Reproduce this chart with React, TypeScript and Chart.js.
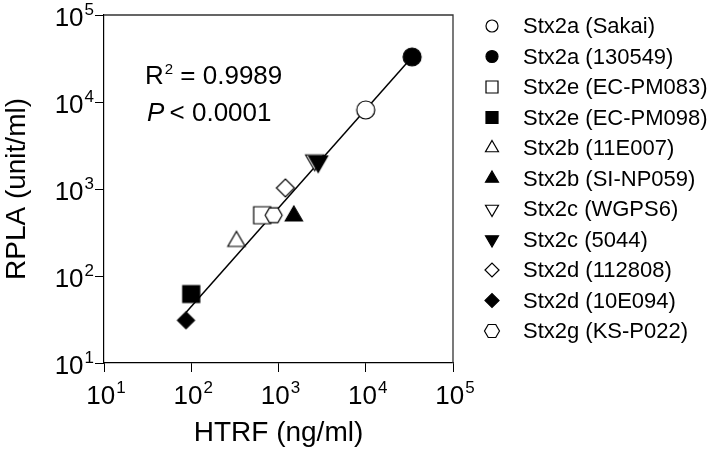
import { useEffect, useRef } from 'react';
import { Chart, registerables } from 'chart.js';

Chart.register(...registerables);

// ---- data ----
const strains = [
  'Stx2a (Sakai)',
  'Stx2a (130549)',
  'Stx2e (EC-PM083)',
  'Stx2e (EC-PM098)',
  'Stx2b (11E007)',
  'Stx2b (SI-NP059)',
  'Stx2c (WGPS6)',
  'Stx2c (5044)',
  'Stx2d (112808)',
  'Stx2d (10E094)',
  'Stx2g (KS-P022)',
];
const htrf = [10000, 34000, 650, 100, 330, 1500, 2600, 2850, 1200, 87, 880];
const rpla = [8100, 33000, 500, 62, 250, 490, 2150, 2080, 1030, 31, 500];
const fitX = [87, 34000];
const fitY = [38, 33000];
const decadeTicks = [10, 100, 1000, 10000, 100000];
const decadeExponents = ['1', '2', '3', '4', '5'];
const rSquaredText = '0.9989';
const pValueText = '0.0001';

// ---- styles ----
const markerShapes = ['circle', 'circle', 'square', 'square', 'triangle', 'triangle', 'triangleDown', 'triangleDown', 'diamond', 'diamond', 'hexagon'];
const markerFilled = [false, true, false, true, false, true, false, true, false, true, false];
const markerSizes = [9, 9, 8.5, 8.5, 10, 10, 10.5, 11, 9, 8.5, 8.5];
const legendSizes = [6, 6, 6, 6, 7.5, 7.5, 7.5, 7.5, 7, 7, 7.5];

const FONT = '"Liberation Sans", Arial, Helvetica, sans-serif';

function shapePath(ctx: CanvasRenderingContext2D, shape: string, x: number, y: number, s: number) {
  ctx.beginPath();
  const poly = (angles: number[], r: number) => {
    angles.forEach((a, i) => {
      const rad = (a * Math.PI) / 180;
      const px = x + Math.cos(rad) * r;
      const py = y + Math.sin(rad) * r;
      if (i === 0) ctx.moveTo(px, py);
      else ctx.lineTo(px, py);
    });
    ctx.closePath();
  };
  switch (shape) {
    case 'circle':
      ctx.arc(x, y, s, 0, Math.PI * 2);
      break;
    case 'square':
      ctx.rect(x - s, y - s, 2 * s, 2 * s);
      break;
    case 'triangle':
      poly([-90, 30, 150], s);
      break;
    case 'triangleDown':
      poly([90, 210, 330], s);
      break;
    case 'diamond':
      poly([0, 90, 180, 270], s);
      break;
    case 'hexagon':
      poly([0, 60, 120, 180, 240, 300], s);
      break;
  }
}

function drawMarker(ctx: CanvasRenderingContext2D, shape: string, filled: boolean, x: number, y: number, s: number) {
  shapePath(ctx, shape, x, y, s);
  ctx.fillStyle = filled ? '#000' : '#fff';
  ctx.fill();
  ctx.lineWidth = 1.2;
  ctx.strokeStyle = '#000';
  ctx.stroke();
}

function makeMarkerImage(shape: string, filled: boolean, s: number) {
  const c = document.createElement('canvas');
  const size = Math.ceil(2 * s + 4);
  c.width = size;
  c.height = size;
  const ctx = c.getContext('2d')!;
  drawMarker(ctx, shape, filled, size / 2, size / 2, s);
  return c;
}

function drawPower(ctx: CanvasRenderingContext2D, exp: string, x: number, baseY: number, align: 'center' | 'right') {
  ctx.font = `26px ${FONT}`;
  const w10 = ctx.measureText('10').width;
  ctx.font = `17px ${FONT}`;
  const wExp = ctx.measureText(exp).width;
  const total = w10 + 1 + wExp;
  const start = align === 'center' ? x - total / 2 : x - total;
  ctx.textAlign = 'left';
  ctx.textBaseline = 'alphabetic';
  ctx.fillStyle = '#000';
  ctx.font = `26px ${FONT}`;
  ctx.fillText('10', start, baseY);
  ctx.font = `17px ${FONT}`;
  ctx.fillText(exp, start + w10 + 1, baseY - 11);
}

const decorPlugin = {
  id: 'decor',
  afterDraw(chart: any) {
    const ctx: CanvasRenderingContext2D = chart.ctx;
    const { chartArea } = chart;
    const xs = chart.scales.x;
    const ys = chart.scales.y;
    ctx.save();
    // top and right frame
    ctx.strokeStyle = '#333';
    ctx.lineWidth = 1.3;
    ctx.beginPath();
    ctx.moveTo(chartArea.left, chartArea.top);
    ctx.lineTo(chartArea.right, chartArea.top);
    ctx.lineTo(chartArea.right, chartArea.bottom);
    ctx.stroke();

    // tick labels
    decadeTicks.forEach((v, i) => {
      const px = xs.getPixelForValue(v);
      drawPower(ctx, decadeExponents[i], px + 2, chartArea.bottom + 41, 'center');
      const py = ys.getPixelForValue(v);
      drawPower(ctx, decadeExponents[i], chartArea.left - 10, py + 11, 'right');
    });

    // annotation
    ctx.fillStyle = '#000';
    ctx.textAlign = 'left';
    ctx.textBaseline = 'alphabetic';
    const ax = xs.getPixelForValue(10) + 41;
    const ay = ys.getPixelForValue(100000) + 69;
    ctx.font = `26px ${FONT}`;
    ctx.fillText('R', ax, ay);
    let cx = ax + ctx.measureText('R').width + 1;
    ctx.font = `15px ${FONT}`;
    ctx.fillText('2', cx, ay - 10);
    cx += ctx.measureText('2').width;
    ctx.font = `26px ${FONT}`;
    ctx.fillText(' = ' + rSquaredText, cx, ay);

    const py2 = ay + 37;
    ctx.font = `italic 26px ${FONT}`;
    ctx.fillText('P', ax + 2, py2);
    const px2 = ax + 2 + ctx.measureText('P').width - 2;
    ctx.font = `26px ${FONT}`;
    ctx.fillText(' < ' + pValueText, px2, py2);

    // legend
    const legendMarkerX = chartArea.right + 39;
    const legendTextX = chartArea.right + 70;
    ctx.textBaseline = 'middle';
    strains.forEach((name, i) => {
      const y = chartArea.top + 11 + i * 30.5;
      drawMarker(ctx, markerShapes[i], markerFilled[i], legendMarkerX, y, legendSizes[i]);
      ctx.fillStyle = '#000';
      ctx.font = `22px ${FONT}`;
      ctx.fillText(name, legendTextX, y + 1);
    });
    ctx.restore();
  },
};

export default function App() {
  const canvasRef = useRef<HTMLCanvasElement | null>(null);

  useEffect(() => {
    document.body.style.margin = '0';
    const canvas = canvasRef.current;
    if (!canvas) return;

    const markerDatasets = strains.map((name, i) => ({
      label: name,
      data: [{ x: htrf[i], y: rpla[i] }],
      pointStyle: makeMarkerImage(markerShapes[i], markerFilled[i], markerSizes[i]),
      pointRadius: markerSizes[i],
      backgroundColor: markerFilled[i] ? '#000' : '#fff',
      borderColor: '#000',
      showLine: false,
      order: strains.length - i,
    }));

    const fitDataset = {
      label: 'fit',
      data: fitX.map((x, i) => ({ x, y: fitY[i] })),
      showLine: true,
      pointRadius: 0,
      borderColor: '#000',
      borderWidth: 1.5,
      backgroundColor: '#000',
      order: 100,
    };

    const axisCommon = (title: string, padding: { top: number; bottom: number }) => ({
      type: 'logarithmic' as const,
      min: 10,
      max: 100000,
      afterBuildTicks: (scale: any) => {
        scale.ticks = decadeTicks.map((v) => ({ value: v }));
      },
      ticks: { display: false },
      grid: {
        display: true,
        drawOnChartArea: false,
        drawTicks: true,
        tickLength: 9,
        color: '#000',
        lineWidth: 1,
      },
      border: { display: true, color: '#000', width: 1.2 },
      title: {
        display: true,
        text: title,
        color: '#000',
        font: { family: FONT, size: 28 },
        padding,
      },
    });

    const chart = new Chart(canvas, {
      type: 'scatter',
      data: { datasets: [...markerDatasets, fitDataset] as any },
      options: {
        animation: false,
        responsive: false,
        events: [],
        layout: { padding: { top: 15, right: 261, bottom: 0, left: 0 } },
        plugins: {
          legend: { display: false },
          tooltip: { enabled: false },
        },
        scales: {
          x: { ...axisCommon('HTRF (ng/ml)', { top: 44.2, bottom: 0.2 }), position: 'bottom' },
          y: { ...axisCommon('RPLA (unit/ml)', { top: 0, bottom: 61.4 }), position: 'left' },
        } as any,
      },
      plugins: [decorPlugin],
    });

    return () => chart.destroy();
  }, []);

  return (
    <div style={{ width: 714, height: 450, background: '#fff' }}>
      <canvas ref={canvasRef} width={714} height={450} style={{ display: 'block' }} />
    </div>
  );
}
